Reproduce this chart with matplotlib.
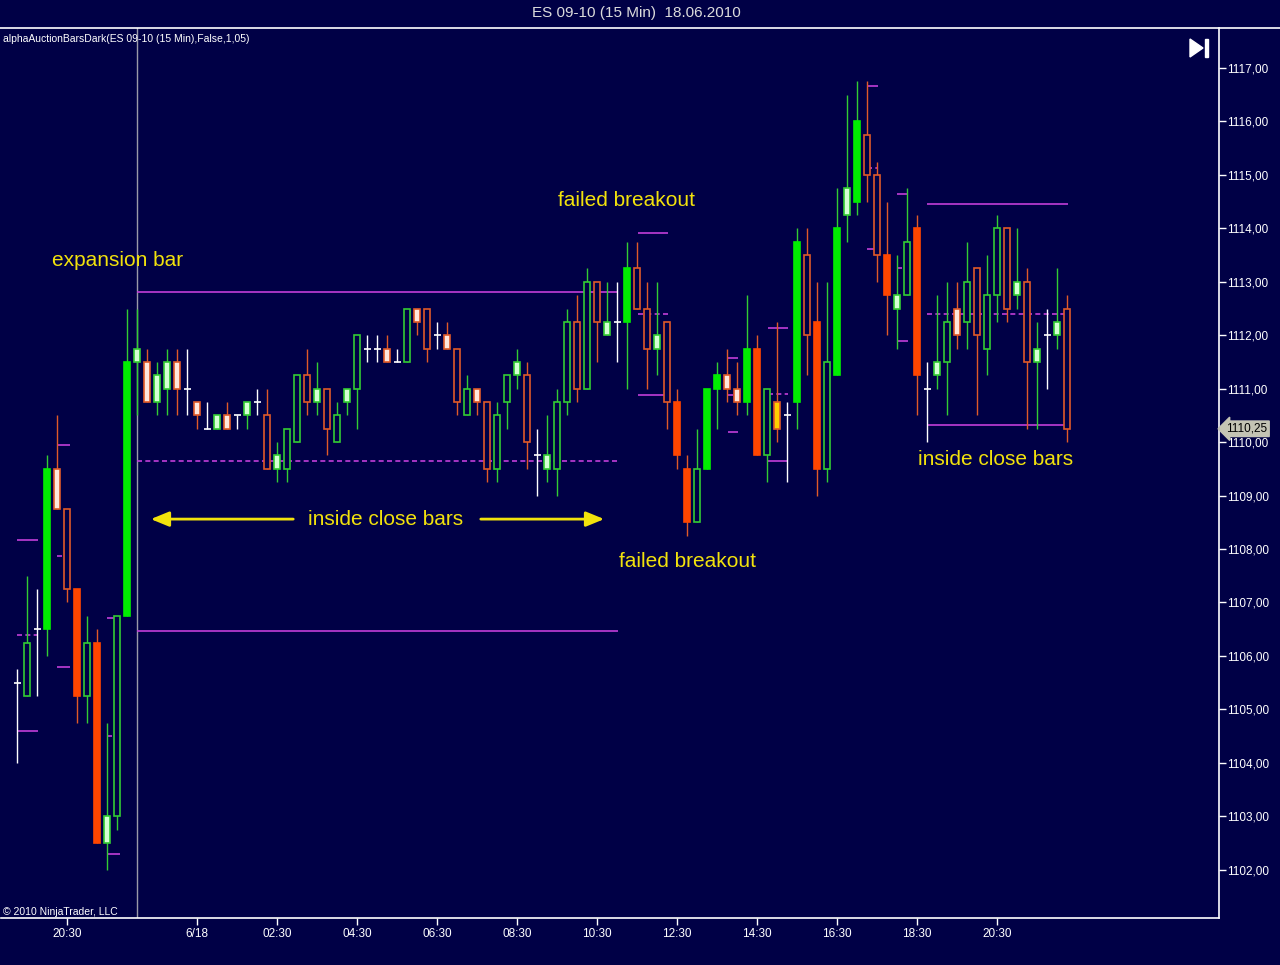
import numpy as np
import matplotlib
matplotlib.use("Agg")
import matplotlib.pyplot as plt
from matplotlib.patches import Polygon, Rectangle
from matplotlib.lines import Line2D

plt.rcParams['font.family'] = ['Liberation Sans', 'DejaVu Sans']

# 15 min bars, ES 09-10
opens = [1105.5, 1105.25, 1106.5, 1106.5, 1109.5, 1108.75, 1107.25, 1105.25, 1106.25, 1102.5,
         1103.0, 1106.75, 1111.5, 1111.5, 1110.75, 1111.0, 1111.5, 1111.0, 1110.75, 1110.25,
         1110.25, 1110.5, 1110.5, 1110.5, 1110.75, 1110.5, 1109.5, 1109.5, 1110.0, 1111.25,
         1110.75, 1111.0, 1110.0, 1110.75, 1111.0, 1111.75, 1111.75, 1111.75, 1111.5, 1111.5,
         1112.5, 1112.5, 1112.0, 1112.0, 1111.75, 1110.5, 1111.0, 1110.75, 1109.5, 1110.75,
         1111.25, 1111.25, 1109.75, 1109.5, 1109.5, 1110.75, 1112.25, 1111.0, 1113.0, 1112.0,
         1112.25, 1112.25, 1113.25, 1112.5, 1111.75, 1112.25, 1110.75, 1109.5, 1108.5, 1109.5,
         1111.0, 1111.25, 1111.0, 1110.75, 1111.75, 1109.75, 1110.75, 1110.5, 1110.75, 1113.5,
         1112.25, 1109.5, 1111.25, 1114.25, 1114.5, 1115.75, 1115.0, 1113.5, 1112.5, 1112.75,
         1114.0, 1111.0, 1111.25, 1111.5, 1112.5, 1112.25, 1113.25, 1111.75, 1112.75, 1114.0,
         1112.75, 1113.0, 1111.5, 1112.0, 1112.0, 1112.5]
highs = [1105.75, 1107.5, 1107.25, 1109.75, 1110.5, 1108.75, 1107.25, 1106.75, 1106.5, 1104.75,
         1106.75, 1112.5, 1112.5, 1111.75, 1111.5, 1111.75, 1111.75, 1111.75, 1110.75, 1110.75,
         1110.5, 1110.75, 1110.5, 1110.75, 1111.0, 1111.0, 1110.0, 1110.25, 1111.25, 1111.75,
         1111.5, 1111.0, 1110.75, 1111.0, 1112.0, 1112.0, 1112.0, 1112.0, 1111.75, 1112.5,
         1112.5, 1112.5, 1112.25, 1112.25, 1111.75, 1111.25, 1111.0, 1110.75, 1110.75, 1111.25,
         1111.75, 1111.5, 1110.25, 1110.5, 1111.0, 1112.5, 1112.75, 1113.25, 1113.0, 1113.0,
         1113.0, 1113.75, 1113.75, 1113.0, 1113.0, 1112.25, 1111.0, 1109.75, 1110.25, 1111.0,
         1111.5, 1111.75, 1111.5, 1112.75, 1112.0, 1111.0, 1112.25, 1110.75, 1114.0, 1114.0,
         1113.0, 1113.0, 1114.75, 1116.5, 1116.75, 1116.75, 1115.25, 1114.5, 1113.5, 1114.75,
         1114.25, 1111.5, 1112.75, 1113.0, 1113.0, 1113.75, 1113.25, 1113.5, 1114.25, 1114.0,
         1114.0, 1113.25, 1112.25, 1112.5, 1113.25, 1112.75]
lows = [1104.0, 1105.25, 1105.25, 1106.0, 1108.75, 1107.0, 1104.75, 1104.75, 1102.5, 1102.0,
        1102.75, 1106.75, 1110.5, 1110.75, 1110.5, 1110.5, 1110.5, 1110.5, 1110.25, 1110.25,
        1110.25, 1110.25, 1110.25, 1110.25, 1110.5, 1109.5, 1109.25, 1109.25, 1110.0, 1110.5,
        1110.5, 1109.75, 1110.0, 1110.5, 1110.25, 1111.5, 1111.5, 1111.5, 1111.5, 1111.5,
        1112.0, 1111.5, 1111.75, 1111.75, 1110.5, 1110.5, 1110.5, 1109.25, 1109.25, 1110.25,
        1111.0, 1109.5, 1109.0, 1109.25, 1109.0, 1110.5, 1110.75, 1111.0, 1111.5, 1112.0,
        1111.5, 1111.0, 1112.5, 1111.0, 1111.25, 1110.25, 1109.5, 1108.25, 1108.5, 1109.5,
        1110.25, 1110.75, 1110.5, 1110.5, 1109.75, 1109.25, 1110.0, 1109.25, 1110.25, 1111.25,
        1109.0, 1109.25, 1111.25, 1113.75, 1114.25, 1114.5, 1113.0, 1112.0, 1111.75, 1112.75,
        1110.5, 1110.0, 1111.0, 1110.5, 1111.75, 1111.75, 1110.5, 1111.25, 1112.25, 1112.25,
        1112.5, 1110.25, 1110.25, 1111.0, 1111.75, 1110.0]
closes = [1105.5, 1106.25, 1106.5, 1109.5, 1108.75, 1107.25, 1105.25, 1106.25, 1102.5, 1103.0,
          1106.75, 1111.5, 1111.75, 1110.75, 1111.25, 1111.5, 1111.0, 1111.0, 1110.5, 1110.25,
          1110.5, 1110.25, 1110.5, 1110.75, 1110.75, 1109.5, 1109.75, 1110.25, 1111.25, 1110.75,
          1111.0, 1110.25, 1110.5, 1111.0, 1112.0, 1111.75, 1111.75, 1111.5, 1111.5, 1112.5,
          1112.25, 1111.75, 1112.0, 1111.75, 1110.75, 1111.0, 1110.75, 1109.5, 1110.5, 1111.25,
          1111.5, 1110.0, 1109.75, 1109.75, 1110.75, 1112.25, 1111.0, 1113.0, 1112.25, 1112.25,
          1112.25, 1113.25, 1112.5, 1111.75, 1112.0, 1110.75, 1109.75, 1108.5, 1109.5, 1111.0,
          1111.25, 1111.0, 1110.75, 1111.75, 1109.75, 1111.0, 1110.25, 1110.5, 1113.75, 1112.0,
          1109.5, 1111.5, 1114.0, 1114.75, 1116.0, 1115.0, 1113.5, 1112.75, 1112.75, 1113.75,
          1111.25, 1111.0, 1111.5, 1112.25, 1112.0, 1113.0, 1112.0, 1112.75, 1114.0, 1112.5,
          1113.0, 1111.5, 1111.75, 1112.0, 1112.25, 1110.25]
# G solid up, g hollow up, l small up, R solid down, r hollow down, p small down, d doji, y yellow
styles = list("dgdGprRgRl" "gGlpllpdpd" "lpdldrlggr" "lrglgddpdg" "prdprgprgg"
              "lrdlggrgrl" "dGrrlrRRgG" "GppGRgydGr" "RgGlGrrRlg" "Rdlgpgrggr" "lrldlr")

# auction ranges: start bar, end bar, top, bottom
rng_start = [0, 4, 9, 12, 62.1, 71.1, 75.1, 85, 88, 91]
rng_end = [2.1, 5.3, 10.3, 60.1, 65.1, 72.1, 77.1, 86.1, 89.1, 105.1]
rng_top = [1108.17, 1109.95, 1106.71, 1112.81, 1113.91, 1111.57, 1112.14, 1116.66, 1114.64, 1114.46]
rng_bot = [1104.6, 1105.79, 1102.29, 1106.47, 1110.88, 1110.19, 1109.65, 1113.61, 1111.89, 1110.32]

time_pos = [5, 18, 26, 34, 42, 50, 58, 66, 74, 82, 90, 98]
time_labels = ["20:30", "6/18", "02:30", "04:30", "06:30", "08:30", "10:30",
               "12:30", "14:30", "16:30", "18:30", "20:30"]
price_ticks = list(range(1102, 1118))
last_price = 1110.25

BG = '#000046'
GREEN = '#00ee00'
GREEN_L = '#33cc33'
RED = '#ff4500'
RED_L = '#e05a28'
MAG = '#c23ed8'
YEL = '#f2e20c'

fig = plt.figure(figsize=(12.8, 9.65), dpi=100, facecolor=BG)
ax = fig.add_axes([1 / 1280, 47 / 965, 1218 / 1280, 890 / 965])
ax.set_facecolor(BG)
ax.set_xlim(-1.6, 120.2)
ax.set_ylim(1101.097, 1117.748)

x = np.arange(len(opens))
o = np.array(opens)
c = np.array(closes)
h = np.array(highs)
l = np.array(lows)

# session marker
ax.axvline(12, color='#9a9aa8', lw=1, zorder=1)

# auction range lines
for xs, xe, top, bot in zip(rng_start, rng_end, rng_top, rng_bot):
    ax.hlines([top, bot], xs, xe, colors=MAG, lw=1.2, zorder=2)
    ax.hlines((top + bot) / 2, xs, xe, colors=MAG, lw=1.2, linestyles=(0, (3, 2)), zorder=2)

face = {'G': GREEN, 'g': BG, 'l': '#d4ffd4', 'R': RED, 'r': BG, 'p': '#ffe6dc', 'y': '#ffd000'}
edge = {'G': GREEN, 'g': GREEN_L, 'l': GREEN_L, 'R': RED, 'r': RED_L, 'p': RED_L, 'y': RED_L}
wick = {'G': GREEN_L, 'g': GREEN_L, 'l': GREEN_L, 'R': RED_L, 'r': RED_L, 'p': RED_L, 'y': RED_L, 'd': 'white'}

ax.vlines(x, l, h, colors=[wick[s] for s in styles], lw=1, zorder=3)

body = [i for i, s in enumerate(styles) if s != 'd']
ax.bar(x[body], np.abs(c - o)[body], bottom=np.minimum(o, c)[body], width=0.55,
       color=[face[styles[i]] for i in body], edgecolor=[edge[styles[i]] for i in body],
       linewidth=1.2, zorder=4)

doji = [i for i, s in enumerate(styles) if s == 'd']
ax.hlines(o[doji], x[doji] - 0.35, x[doji] + 0.35, colors='white', lw=1.2, zorder=4)

# annotations
txt = dict(color=YEL, fontsize=15, ha='left', va='center', zorder=6)
ax.text(3.5, 1113.39, "expansion bar", **txt)
ax.text(54.1, 1114.53, "failed breakout", **txt)
ax.text(29.1, 1108.56, "inside close bars", **txt)
ax.text(60.2, 1107.76, "failed breakout", **txt)
ax.text(90.1, 1109.67, "inside close bars", **txt)
arrow = dict(arrowstyle='-|>,head_length=1.1,head_width=0.45', color=YEL, lw=2)
ax.annotate("", xy=(13.1, 1108.56), xytext=(27.9, 1108.56), arrowprops=arrow, zorder=6)
ax.annotate("", xy=(59.0, 1108.56), xytext=(46.1, 1108.56), arrowprops=arrow, zorder=6)

# axes styling
for side in ['left', 'top']:
    ax.spines[side].set_visible(False)
for side in ['right', 'bottom']:
    ax.spines[side].set_color('white')
    ax.spines[side].set_linewidth(1.2)
ax.yaxis.tick_right()
ax.set_yticks(price_ticks)
ax.set_yticklabels([f"{p},00" for p in price_ticks])
ax.set_xticks(time_pos)
ax.set_xticklabels(time_labels)
ax.tick_params(colors='white', labelcolor='white', labelsize=8.5, direction='out', length=5, width=1)
ax.tick_params(axis='y', pad=1)
ax.tick_params(axis='x', pad=2)

# last price marker
ax.text(1.006, last_price, "1110,25", transform=ax.get_yaxis_transform(), fontsize=8.5,
        color='black', ha='left', va='center', zorder=7, clip_on=False,
        bbox=dict(boxstyle='larrow,pad=0.15', fc='#c4c4b4', ec='#c4c4b4'))

# frame line and header texts
fig.add_artist(Line2D([0, 1], [1 - 27.5 / 965] * 2, color='white', lw=1.2))
fig.text(636 / 1280, 1 - 13 / 965, "ES 09-10 (15 Min)  18.06.2010", color='#dcdcdc',
         fontsize=11, ha='center', va='center')
fig.text(3 / 1280, 1 - 39 / 965, "alphaAuctionBarsDark(ES 09-10 (15 Min),False,1,05)",
         color='white', fontsize=7.5, ha='left', va='center')
fig.text(3 / 1280, 1 - 912 / 965, "\u00a9 2010 NinjaTrader, LLC", color='white',
         fontsize=7.5, ha='left', va='center')

# "go to end" icon
tri = Polygon([[1190 / 1280, 1 - 39 / 965], [1190 / 1280, 1 - 57 / 965], [1203 / 1280, 1 - 48 / 965]],
              closed=True, transform=fig.transFigure, fc='white', ec='white')
bar_ic = Rectangle((1205 / 1280, 1 - 57 / 965), 3 / 1280, 18 / 965, transform=fig.transFigure,
                   fc='white', ec='white')
fig.add_artist(tri)
fig.add_artist(bar_ic)

fig.savefig("out.png", dpi=100, facecolor=BG)
